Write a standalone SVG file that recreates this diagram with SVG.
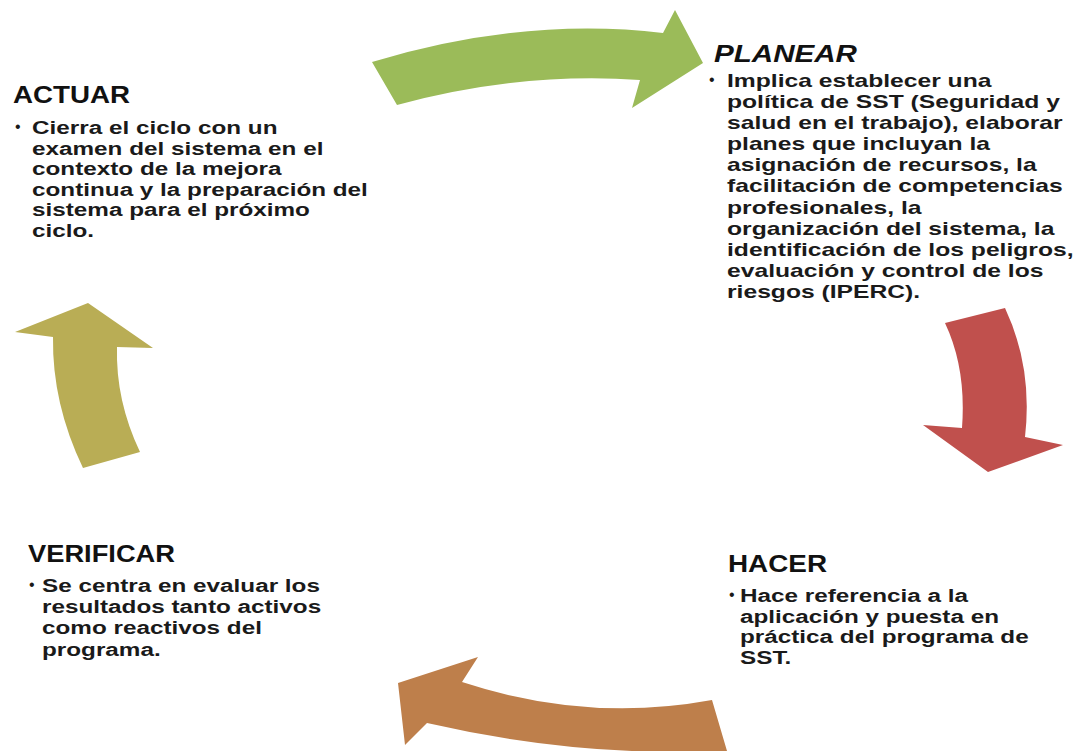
<svg xmlns="http://www.w3.org/2000/svg" width="1083" height="751" viewBox="0 0 1083 751">
<style>
.t{font-family:"Liberation Sans",Arial,sans-serif;font-weight:bold;font-size:24px;fill:#111}
.ti{font-style:italic}
.b{font-family:"Liberation Sans",Arial,sans-serif;font-weight:bold;font-size:18.4px;fill:#1a1a1a}
.bul{font-family:"Liberation Sans",Arial,sans-serif;font-size:16px;fill:#1a1a1a}
</style>
<rect width="1083" height="751" fill="#ffffff"/>
<g id="connectors">
<path id="arrow-plan" fill="#9BBB59" d="M372,62 Q522.5,16.5 663,33 L675,10 L703,63 L632,108 L640,80 Q521.5,71.5 397,105 Z"/>
<path id="arrow-hacer" fill="#C0504D" d="M945,323 L1005,308 Q1033,367.5 1025,437 L1063,445 L988,472 L923,425 L962,428 Q966.5,368.5 945,323 Z"/>
<path id="arrow-verif" fill="#BE7F4B" d="M398,683 L478,657 L462,682 Q587,723 712,700 L727,751 Q577,757.5 427,723 L405,745 Z"/>
<path id="arrow-actuar" fill="#B9AD55" d="M88,303 L153,348 L117,347 Q115.5,400.5 140,452 L83,468 Q52,403.5 53,337 L15,332 Z"/>
</g>
<g id="actuar">
<text class="t" x="13" y="103" textLength="117" lengthAdjust="spacingAndGlyphs">ACTUAR</text>
<text class="bul" x="15" y="132">•</text>
<g transform="translate(32,0) scale(1.32,1)">
<text class="b" x="0" y="134">Cierra el ciclo con un</text>
<text class="b" x="0" y="154.6">examen del sistema en el</text>
<text class="b" x="0" y="175.2">contexto de la mejora</text>
<text class="b" x="0" y="195.8">continua y la preparación del</text>
<text class="b" x="0" y="216.4">sistema para el próximo</text>
<text class="b" x="0" y="237">ciclo.</text>
</g>
</g>
<g id="planear">
<text class="t ti" x="714" y="62" textLength="143" lengthAdjust="spacingAndGlyphs">PLANEAR</text>
<text class="bul" x="709" y="85">•</text>
<g transform="translate(727,0) scale(1.34,1)" xml:space="preserve">
<text class="b" x="0" y="87">Implica  establecer una</text>
<text class="b" x="0" y="108.1">política  de SST (Seguridad y</text>
<text class="b" x="0" y="129.2">salud en el trabajo), elaborar</text>
<text class="b" x="0" y="150.3">planes que incluyan la</text>
<text class="b" x="0" y="171.4">asignación de recursos, la</text>
<text class="b" x="0" y="192.5">facilitación de competencias</text>
<text class="b" x="0" y="213.6">profesionales, la</text>
<text class="b" x="0" y="234.7">organización del sistema, la</text>
<text class="b" x="0" y="255.8">identificación de los peligros,</text>
<text class="b" x="0" y="276.9">evaluación y control de los</text>
<text class="b" x="0" y="298">riesgos (IPERC).</text>
</g>
</g>
<g id="hacer">
<text class="t" x="728" y="572" textLength="99" lengthAdjust="spacingAndGlyphs">HACER</text>
<text class="bul" x="729" y="600">•</text>
<g transform="translate(740,0) scale(1.32,1)">
<text class="b" x="0" y="602">Hace referencia a la</text>
<text class="b" x="0" y="622.6">aplicación y puesta en</text>
<text class="b" x="0" y="643.2">práctica del programa de</text>
<text class="b" x="0" y="663.8">SST.</text>
</g>
</g>
<g id="verificar">
<text class="t" x="28" y="562" textLength="147" lengthAdjust="spacingAndGlyphs">VERIFICAR</text>
<text class="bul" x="29" y="590">•</text>
<g transform="translate(42,0) scale(1.32,1)">
<text class="b" x="0" y="592">Se centra en evaluar los</text>
<text class="b" x="0" y="613.2">resultados tanto activos</text>
<text class="b" x="0" y="634.4">como reactivos del</text>
<text class="b" x="0" y="655.6">programa.</text>
</g>
</g>
</svg>
